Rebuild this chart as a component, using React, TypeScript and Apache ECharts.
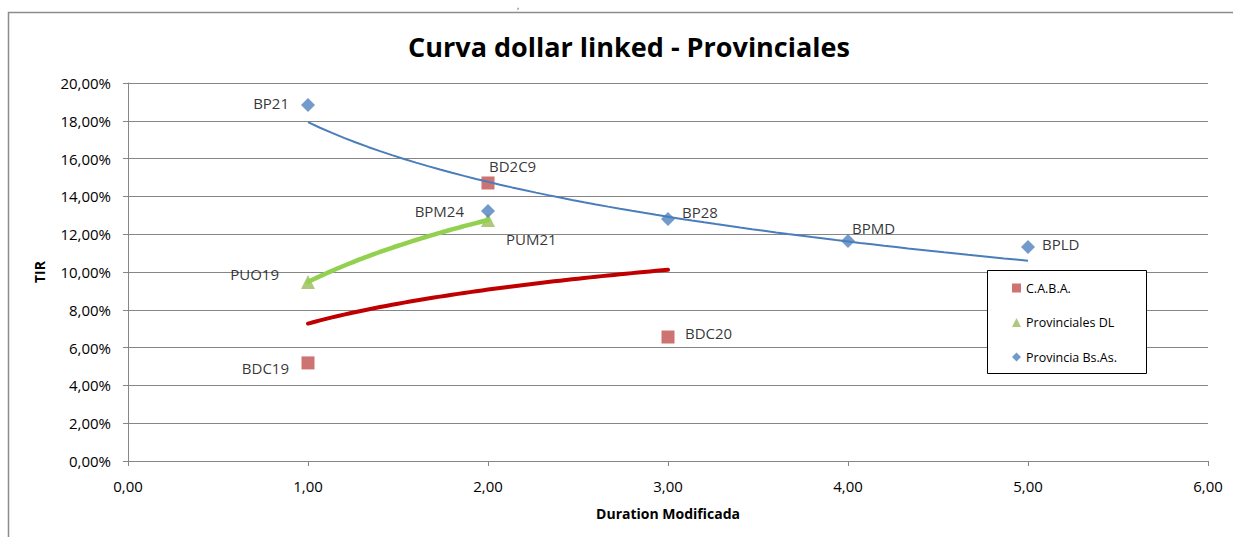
import React, { useEffect, useRef } from "react";
import * as echarts from "echarts";

// Provincia Bs.As.
const bsAsNames = ["BP21", "BPM24", "BP28", "BPMD", "BPLD"];
const bsAsX = [1, 2, 3, 4, 5];
const bsAsY = [18.84, 13.23, 12.8, 11.64, 11.32];

// C.A.B.A.
const cabaNames = ["BDC19", "BD2C9", "BDC20"];
const cabaX = [1, 2, 3];
const cabaY = [5.19, 14.71, 6.56];

// Provinciales DL
const provNames = ["PUO19", "PUM21"];
const provX = [1, 2];
const provY = [9.47, 12.75];

const legendNames = ["C.A.B.A.", "Provinciales DL", "Provincia Bs.As."];

// label placement (styling): align + offset from marker centre
const labelPlacement: Record<string, [string, number, number]> = {
  BP21: ["right", -19, -2],
  BPM24: ["right", -24, 0],
  BP28: ["left", 14, -7],
  BPMD: ["left", 4, -13],
  BPLD: ["left", 14, -3],
  BD2C9: ["left", 1, -17],
  BDC19: ["right", -19, 5],
  BDC20: ["left", 17, -4],
  PUO19: ["right", -29, -8],
  PUM21: ["left", 18, 19],
};

const FONT = "Open Sans";

// logarithmic least-squares trendline (as in a spreadsheet)
function logTrend(xs: number[], ys: number[]) {
  const lx = xs.map((x) => Math.log(x));
  const n = xs.length;
  const mx = lx.reduce((s, v) => s + v, 0) / n;
  const my = ys.reduce((s, v) => s + v, 0) / n;
  let sxy = 0,
    sxx = 0;
  for (let i = 0; i < n; i++) {
    sxy += (lx[i] - mx) * (ys[i] - my);
    sxx += (lx[i] - mx) * (lx[i] - mx);
  }
  const b = sxy / sxx;
  const a = my - b * mx;
  const x0 = Math.min(...xs);
  const x1 = Math.max(...xs);
  const pts: number[][] = [];
  const steps = 60;
  for (let i = 0; i <= steps; i++) {
    const x = x0 + ((x1 - x0) * i) / steps;
    pts.push([x, a + b * Math.log(x)]);
  }
  return pts;
}

function pointData(names: string[], xs: number[], ys: number[]) {
  return names.map((name, i) => {
    const [align, dx, dy] = labelPlacement[name];
    return {
      name,
      value: [xs[i], ys[i]],
      label: {
        show: true,
        position: "inside",
        align,
        verticalAlign: "middle",
        offset: [dx, dy],
        formatter: name,
        color: "#000",
        fontFamily: FONT,
        fontSize: 15,
        textBorderWidth: 0,
      },
    };
  });
}

export default function App() {
  const ref = useRef<HTMLDivElement>(null);
  useEffect(() => {
    document.body.style.margin = "0";
    if (!ref.current) return;
    const chart = echarts.init(ref.current, undefined, { renderer: "svg" });
    const fmt = (v: number, suffix = "") => v.toFixed(2).replace(".", ",") + suffix;
    const axisGray = "#868686";
    chart.setOption({
      animation: false,
      backgroundColor: "#fff",
      textStyle: { fontFamily: FONT },
      title: {
        text: "Curva dollar linked - Provinciales",
        left: 624,
        textAlign: "center",
        top: 28,
        textStyle: { fontFamily: FONT, fontWeight: "bold", fontSize: 27, color: "#000" },
      },
      graphic: [
        {
          type: "rect",
          shape: { x: 8.5, y: 12.5, width: 1400, height: 700 },
          style: { fill: "none", stroke: "#8c8c8c", lineWidth: 1.5 },
          z: 0,
          silent: true,
        },
        {
          type: "rect",
          shape: { x: 987.5, y: 270.5, width: 159, height: 103 },
          style: { fill: "#fff", stroke: "#000", lineWidth: 1 },
          z: 3,
          silent: true,
        },
        {
          type: "text",
          x: 517,
          y: 1,
          style: { text: ",", fill: "#333", font: `9px ${FONT}`, verticalAlign: "top" },
          silent: true,
        },
      ],
      legend: {
        orient: "vertical",
        left: 1012,
        top: 281,
        padding: 0,
        itemWidth: 9,
        itemHeight: 9,
        itemGap: 20.5,
        z: 5,
        data: [
          { name: legendNames[0], icon: "rect" },
          { name: legendNames[1], icon: "triangle" },
          { name: legendNames[2], icon: "diamond" },
        ],
        textStyle: { fontFamily: FONT, fontSize: 12.5, color: "#000", lineHeight: 14 },
      },
      grid: { left: 128, right: 25, top: 83, bottom: 76 },
      xAxis: {
        type: "value",
        min: 0,
        max: 6,
        interval: 1,
        name: "Duration Modificada",
        nameLocation: "middle",
        nameGap: 45,
        nameTextStyle: { fontFamily: FONT, fontWeight: "bold", fontSize: 14, color: "#000" },
        axisLine: { show: true, lineStyle: { color: axisGray } },
        axisTick: { show: true, length: 5, lineStyle: { color: axisGray } },
        axisLabel: { formatter: (v: number) => fmt(v), margin: 17, color: "#000", fontSize: 15, fontFamily: FONT },
        splitLine: { show: false },
      },
      yAxis: {
        type: "value",
        min: 0,
        max: 20,
        interval: 2,
        name: "TIR",
        nameLocation: "middle",
        nameRotate: 90,
        nameGap: 82,
        nameTextStyle: { fontFamily: FONT, fontWeight: "bold", fontSize: 14, color: "#000" },
        axisLine: { show: true, lineStyle: { color: axisGray } },
        axisTick: { show: true, length: 5, lineStyle: { color: axisGray } },
        axisLabel: { formatter: (v: number) => fmt(v, "%"), margin: 17, color: "#000", fontSize: 15, fontFamily: FONT },
        splitLine: { show: true, lineStyle: { color: axisGray, width: 1 } },
      },
      series: [
        {
          name: legendNames[0],
          type: "scatter",
          symbol: "rect",
          symbolSize: 13,
          itemStyle: { color: "#C0504D" },
          data: pointData(cabaNames, cabaX, cabaY),
          z: 3,
        },
        {
          name: legendNames[1],
          type: "scatter",
          symbol: "triangle",
          symbolSize: 14,
          itemStyle: { color: "#9BBB59" },
          data: pointData(provNames, provX, provY),
          z: 3,
        },
        {
          name: legendNames[2],
          type: "scatter",
          symbol: "diamond",
          symbolSize: 14,
          itemStyle: { color: "#4F81BD" },
          data: pointData(bsAsNames, bsAsX, bsAsY),
          z: 3,
        },
        {
          name: "Tendencia C.A.B.A.",
          type: "line",
          showSymbol: false,
          silent: true,
          data: logTrend(cabaX, cabaY),
          lineStyle: { color: "#C00000", width: 4, cap: "round" },
          z: 4,
        },
        {
          name: "Tendencia Provinciales DL",
          type: "line",
          showSymbol: false,
          silent: true,
          data: logTrend(provX, provY),
          lineStyle: { color: "#92D050", width: 4.5, cap: "round" },
          z: 4,
        },
        {
          name: "Tendencia Provincia Bs.As.",
          type: "line",
          showSymbol: false,
          silent: true,
          data: logTrend(bsAsX, bsAsY),
          lineStyle: { color: "#4A7EBB", width: 2 },
          z: 4,
        },
      ],
    });
    return () => chart.dispose();
  }, []);
  return <div ref={ref} style={{ width: 1233, height: 537 }} />;
}
